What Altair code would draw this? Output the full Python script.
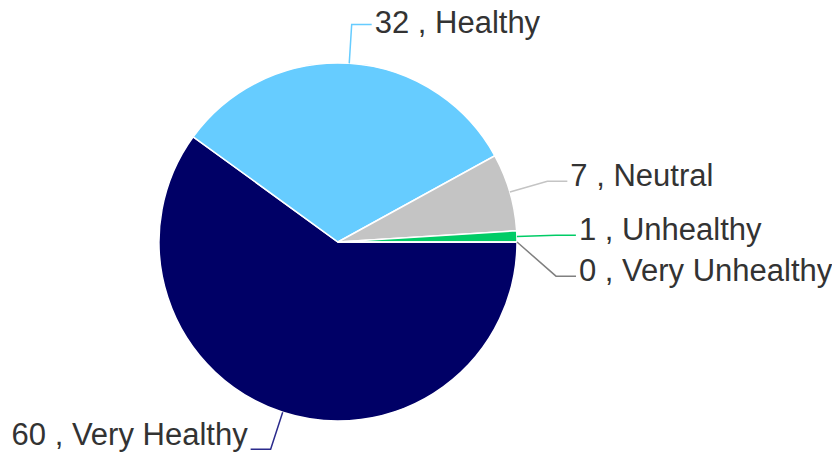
import math
import altair as alt
import pandas as pd

categories = ["Very Healthy", "Healthy", "Neutral", "Unhealthy", "Very Unhealthy"]
values = [60, 32, 7, 1, 0]
slice_colors = ["#000066", "#66CCFF", "#C4C4C4", "#00CC66", "#808080"]
line_colors = ["#2B2B8C", "#66CCFF", "#C4C4C4", "#00CC66", "#808080"]

W, H = 824, 445
CX, CY = 330, 234
R = 179
R_ELBOW = 218
START = math.pi / 2
total = sum(values)

# geometry of leader lines derived from the values
rows = []
labels = []
cum = 0
for i, (c, v) in enumerate(zip(categories, values)):
    mid = START + 2 * math.pi * (cum + v / 2) / total
    cum += v
    s, co = math.sin(mid), math.cos(mid)
    side = 1 if s >= 0 else -1
    labels.append(dict(category=c, value=v, idx=i, side=side,
                       x0=CX + R * s, y0=CY - R * co,
                       x1=CX + R_ELBOW * s, y1=CY - R_ELBOW * co))

# simple label collision avoidance per side
for side in (1, -1):
    grp = sorted([l for l in labels if l["side"] == side], key=lambda d: d["y1"])
    for a, b in zip(grp, grp[1:]):
        if b["y1"] < a["y1"] + 41:
            b["y1"] = a["y1"] + 41

for l in labels:
    l["x2"] = l["x1"] + 20 * l["side"]
    l["tx"] = l["x2"] + 3 * l["side"]
    l["ty"] = min(max(l["y1"] + 5, 25), H - 8)
    l["text"] = f"{l['value']} , {l['category']}"
    l["lc"] = line_colors[l["idx"]]
    for seq, (xx, yy) in enumerate([(l["x0"], l["y0"]), (l["x1"], l["y1"]), (l["x2"], l["y1"])]):
        rows.append(dict(category=l["category"], seq=seq, x=xx, y=yy, lc=l["lc"]))

pie_df = pd.DataFrame({"category": categories, "value": values, "idx": range(len(values))})
line_df = pd.DataFrame(rows)
lab_df = pd.DataFrame(labels)

xs = alt.Scale(domain=[0, W], nice=False, zero=False)
ys = alt.Scale(domain=[H, 0], nice=False, zero=False)

shadow = alt.Chart(pd.DataFrame({"k": [1]})).mark_circle(
    size=math.pi * (R + 1.5) ** 2, color="#cfcfcf", opacity=1
).encode(x=alt.value(CX + 1), y=alt.value(CY + 1))

pie = alt.Chart(pie_df).mark_arc(outerRadius=R, stroke="white", strokeWidth=1.5).encode(
    theta=alt.Theta("value:Q", stack=True,
                    scale=alt.Scale(range=[START, START + 2 * math.pi])),
    order=alt.Order("idx:Q"),
    color=alt.Color("category:N", scale=alt.Scale(domain=categories, range=slice_colors), legend=None),
    x=alt.value(CX), y=alt.value(CY),
)

lines = alt.Chart(line_df).mark_line(strokeWidth=1.5).encode(
    x=alt.X("x:Q", scale=xs, axis=None),
    y=alt.Y("y:Q", scale=ys, axis=None),
    detail="category:N",
    order="seq:Q",
    color=alt.Color("lc:N", scale=None),
)

text_right = alt.Chart(lab_df[lab_df.side == 1]).mark_text(
    align="left", baseline="alphabetic", fontSize=31, font="Liberation Sans", color="#333333"
).encode(x=alt.X("tx:Q", scale=xs, axis=None), y=alt.Y("ty:Q", scale=ys, axis=None), text="text:N")

text_left = alt.Chart(lab_df[lab_df.side == -1]).mark_text(
    align="right", baseline="alphabetic", fontSize=31, font="Liberation Sans", color="#333333"
).encode(x=alt.X("tx:Q", scale=xs, axis=None), y=alt.Y("ty:Q", scale=ys, axis=None), text="text:N")

chart = alt.layer(shadow, pie, lines, text_right, text_left).properties(
    width=W, height=H, padding=0, autosize=alt.AutoSizeParams(type="none")
).configure_view(stroke=None).resolve_scale(color="independent")

chart.save("out.html", embed_options={"renderer": "svg", "actions": False})
